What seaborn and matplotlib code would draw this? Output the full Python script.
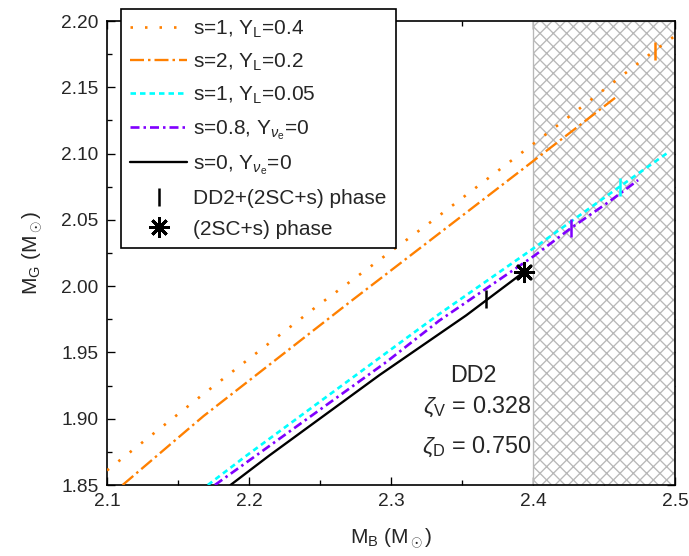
import matplotlib
matplotlib.use("Agg")
import matplotlib.pyplot as plt
import seaborn as sns
from matplotlib.lines import Line2D
from matplotlib.ticker import MultipleLocator, FormatStrFormatter

# curves, M_B -> M_G (solar masses)
mb_s1_yl04 = [2.100, 2.166, 2.248, 2.330, 2.428, 2.486, 2.499]
mg_s1_yl04 = [1.861, 1.917, 1.985, 2.050, 2.130, 2.178, 2.188]

mb_s2_yl02 = [2.111, 2.168, 2.271, 2.350, 2.430, 2.459]
mg_s2_yl02 = [1.850, 1.902, 1.988, 2.053, 2.119, 2.143]

mb_s1_yl005 = [2.171, 2.198, 2.306, 2.334, 2.401, 2.461, 2.494]
mg_s1_yl005 = [1.850, 1.872, 1.957, 1.979, 2.029, 2.075, 2.100]

mb_s08 = [2.176, 2.206, 2.297, 2.334, 2.401, 2.427, 2.454, 2.474]
mg_s08 = [1.850, 1.873, 1.943, 1.974, 2.023, 2.044, 2.064, 2.080]

mb_s0 = [2.187, 2.214, 2.292, 2.353, 2.394]
mg_s0 = [1.850, 1.872, 1.933, 1.978, 2.011]

# onset of the mixed phase (vertical ticks) and pure (2SC+s) phase (star)
tick_mb = [2.367, 2.427, 2.461, 2.486]
tick_mg = [1.990, 2.044, 2.075, 2.177]
tick_colors = ["black", "#8000ff", "#00ffff", "#ff8000"]
star_mb = [2.394]
star_mg = [2.011]

sns.set_theme(style="ticks")
plt.rcParams["font.family"] = ["Liberation Sans", "DejaVu Sans"]
plt.rcParams["mathtext.fontset"] = "custom"
plt.rcParams["mathtext.rm"] = "Liberation Sans"
plt.rcParams["mathtext.it"] = "Liberation Sans:italic"
plt.rcParams["mathtext.bf"] = "Liberation Sans:bold"
plt.rcParams["lines.scale_dashes"] = False
plt.rcParams["hatch.linewidth"] = 0.8

fig = plt.figure(figsize=(689 / 120, 556 / 120), dpi=120)
ax = fig.add_axes([107 / 689, 1 - 485 / 556, 568 / 689, 464 / 556])

# hatched region M_B > 2.4
ax.axvspan(2.4, 2.5, facecolor="white", edgecolor="#b8b8b8", hatch="xxx", lw=0.8, zorder=1)

curves = [
    (mb_s1_yl04, mg_s1_yl04, "#ff8000", (0, (1.5, 7.2)), 1.6, "s=1, Y$_\\mathrm{L}$=0.4"),
    (mb_s2_yl02, mg_s2_yl02, "#ff8000", (0, (8.4, 2.4, 1.5, 2.4)), 1.4, "s=2, Y$_\\mathrm{L}$=0.2"),
    (mb_s1_yl005, mg_s1_yl005, "#00ffff", (0, (3.3, 2.4)), 1.6, "s=1, Y$_\\mathrm{L}$=0.05"),
    (mb_s08, mg_s08, "#8000ff", (0, (5.4, 2.4, 1.5, 2.4)), 1.6, "s=0.8, Y$_{\\nu_\\mathrm{e}}$=0"),
    (mb_s0, mg_s0, "black", "-", 1.4, "s=0, Y$_{\\nu_\\mathrm{e}}$=0"),
]

handles = []
for mb, mg, col, ls, lw, lab in curves:
    sns.lineplot(x=mb, y=mg, ax=ax, color=col, linestyle=ls, lw=lw, sort=False,
                 estimator=None, legend=False, zorder=3)
    handles.append(Line2D([], [], color=col, linestyle=ls, lw=lw, label=lab))

for x, y, c in zip(tick_mb, tick_mg, tick_colors):
    ax.plot(x, y, marker="|", color=c, ms=11, mew=1.5, ls="none", zorder=4)
sns.scatterplot(x=star_mb, y=star_mg, ax=ax, marker=(8, 2, 0), s=120, color="black",
                linewidth=1.8, edgecolor="black", zorder=5, legend=False)

handles.append(Line2D([], [], ls="none", marker="|", color="black", ms=11, mew=1.5,
                      label="DD2+(2SC+s) phase"))
handles.append(Line2D([], [], ls="none", marker=(8, 2, 0), color="black", ms=12, mew=1.8,
                      label="(2SC+s) phase"))

leg = ax.legend(handles=handles, loc="upper left", bbox_to_anchor=(121 / 689, 1 - 9 / 556),
                bbox_transform=fig.transFigure, frameon=True, fancybox=False,
                edgecolor="black", framealpha=1, borderaxespad=0, fontsize=12.5,
                handlelength=2.7, handletextpad=0.3, labelspacing=0.57, borderpad=0.45)
leg.get_frame().set_linewidth(1.0)

ax.text(2.358, 1.9278, "DD2", ha="center", va="baseline", fontsize=14)
ax.text(2.399, 1.9044, "$\\zeta_\\mathrm{V}$ = 0.328", ha="right", va="baseline", fontsize=14)
ax.text(2.399, 1.8742, "$\\zeta_\\mathrm{D}$ = 0.750", ha="right", va="baseline", fontsize=14)

ax.set_xlim(2.1, 2.5)
ax.set_ylim(1.85, 2.20)
ax.xaxis.set_major_locator(MultipleLocator(0.1))
ax.xaxis.set_minor_locator(MultipleLocator(0.05))
ax.yaxis.set_major_locator(MultipleLocator(0.05))
ax.yaxis.set_minor_locator(MultipleLocator(0.025))
ax.xaxis.set_major_formatter(FormatStrFormatter("%.1f"))
ax.yaxis.set_major_formatter(FormatStrFormatter("%.2f"))
ax.tick_params(which="both", direction="in", top=True, right=True, width=0.8,
               labelsize=11.5, pad=5, color="black")
ax.tick_params(which="major", length=5)
ax.tick_params(which="minor", length=3)
for sp in ax.spines.values():
    sp.set_linewidth(1.0)
    sp.set_color("black")

ax.set_xlabel("M$_\\mathrm{B}$ (M$_\\odot$)", fontsize=12.5, labelpad=10)
ax.set_ylabel("M$_\\mathrm{G}$ (M$_\\odot$)", fontsize=12.5, labelpad=10)

fig.savefig("out.png", dpi=120)
